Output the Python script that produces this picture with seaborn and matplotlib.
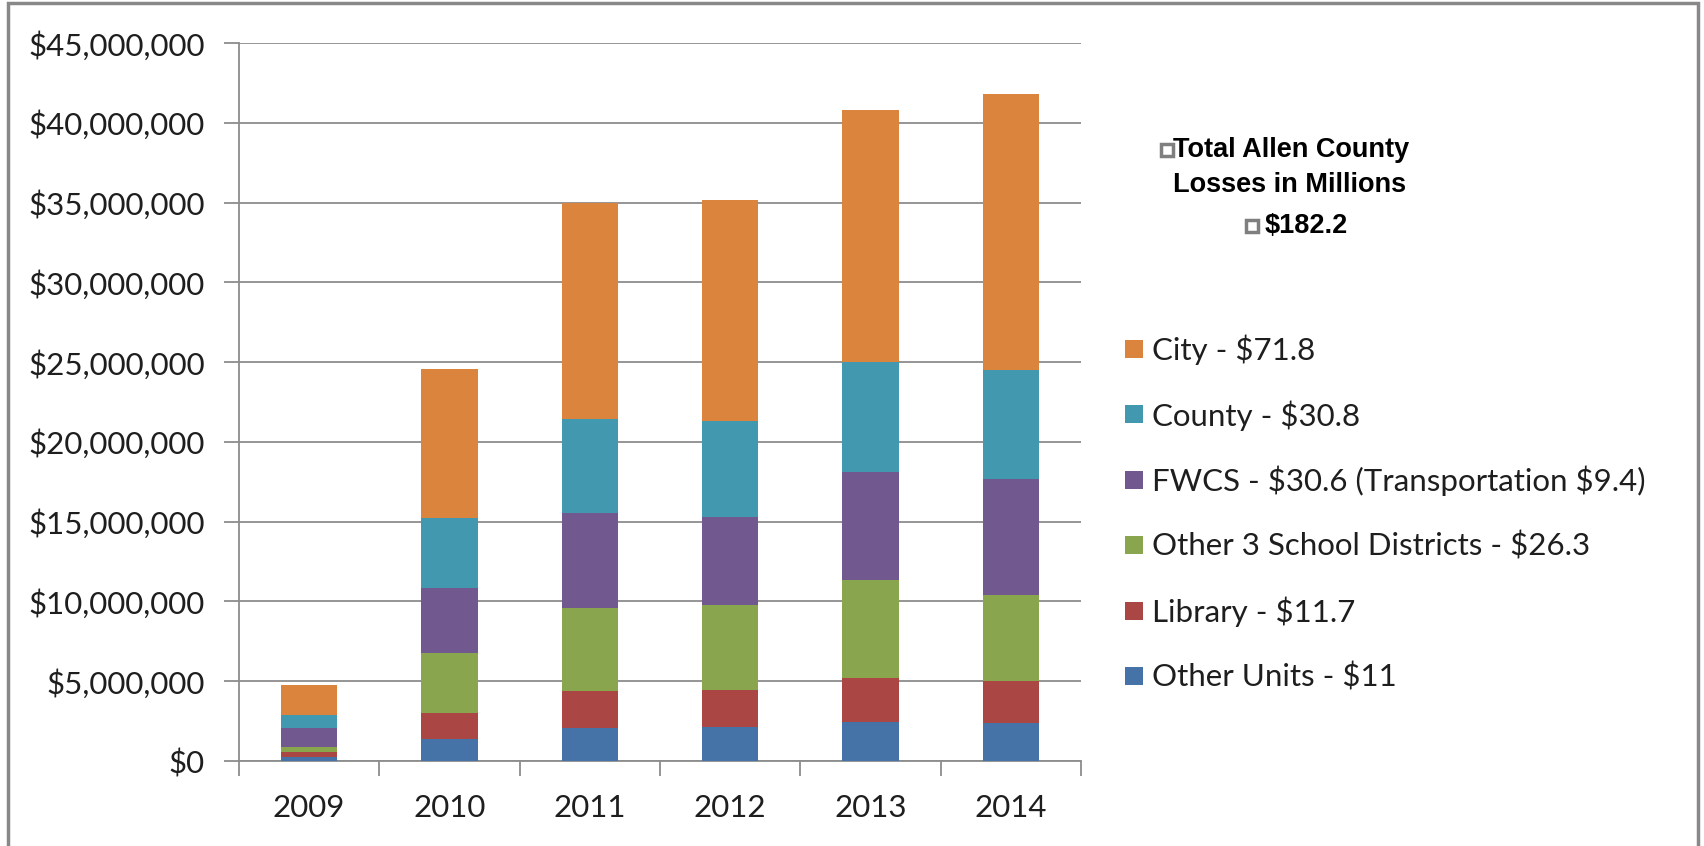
import matplotlib
matplotlib.use("Agg")
import matplotlib.pyplot as plt
import matplotlib.ticker as mticker
from matplotlib.patches import Rectangle
import seaborn as sns
import pandas as pd
import numpy as np

# ---------------- data (millions of dollars) ----------------
years = ["2009", "2010", "2011", "2012", "2013", "2014"]
other_units = [0.25, 1.40, 2.05, 2.15, 2.47, 2.36]
library = [0.32, 1.60, 2.31, 2.31, 2.72, 2.64]
other_schools = [0.30, 3.80, 5.24, 5.29, 6.18, 5.42]
fwcs = [1.18, 4.06, 5.96, 5.54, 6.73, 7.27]
county = [0.85, 4.40, 5.89, 5.99, 6.93, 6.84]
city = [1.87, 9.33, 13.53, 13.90, 15.77, 17.28]

series_names = ["Other Units - $11", "Library - $11.7",
                "Other 3 School Districts - $26.3",
                "FWCS - $30.6 (Transportation $9.4)",
                "County - $30.8", "City - $71.8"]
series_values = [other_units, library, other_schools, fwcs, county, city]
series_colors = ["#4572A7", "#AA4643", "#89A54E", "#71588F", "#4198AF", "#DB843D"]
header_lines = ["Total Allen County", "Losses in Millions"]
header_total = "$182.2"
y_ticks = list(range(0, 45_000_001, 5_000_000))

# ---------------- figure ----------------
W, H = 1704, 846
sns.set_style("white")
plt.rcParams["font.family"] = ["Lato", "DejaVu Sans"]
plt.rcParams["text.parse_math"] = False

fig = plt.figure(figsize=(W / 100, H / 100), dpi=100)
fig.patch.set_facecolor("white")

def fx(px):
    return px / W

def fy(py):
    return 1 - py / H

ax_left, ax_right, ax_top, ax_bot = 239, 1081, 43, 761
ax = fig.add_axes([fx(ax_left), fy(ax_bot), fx(ax_right - ax_left), (ax_bot - ax_top) / H])

# long-form table with cumulative tops
rows = []
for name, vals in zip(series_names, series_values):
    for yr, v in zip(years, vals):
        rows.append({"year": yr, "series": name, "value": v * 1e6})
df = pd.DataFrame(rows)
df["top"] = df.groupby("year")["value"].cumsum()

# draw from the top layer downwards so lower layers cover upper ones
for name, col in reversed(list(zip(series_names, series_colors))):
    sub = df[df["series"] == name]
    sns.barplot(data=sub, x="year", y="top", order=years, color=col,
                width=0.4, ax=ax, saturation=1, edgecolor="none", zorder=3)

grid_c = "#8C8C8C"
txt_c = "#1E1E1E"
fs = 22.5
ax.set_xlim(-0.5, 5.5)
ax.set_ylim(0, 45_000_000)
ax.set_yticks(y_ticks)
ax.yaxis.set_major_formatter(mticker.FuncFormatter(lambda v, p: f"${v:,.0f}"))
ax.yaxis.grid(True, color=grid_c, linewidth=1.3, zorder=0)
ax.set_axisbelow(True)
ax.set_xlabel("")
ax.set_ylabel("")

for s in ["top", "right"]:
    ax.spines[s].set_visible(False)
for s in ["left", "bottom"]:
    ax.spines[s].set_color(grid_c)
    ax.spines[s].set_linewidth(1.3)

ax.tick_params(axis="y", length=11, width=1.3, color=grid_c, pad=13.5,
               labelsize=fs, labelcolor=txt_c, left=True)
ax.set_xticks(range(len(years)))
ax.set_xticklabels(years)
ax.set_xticks(np.arange(-0.5, len(years), 1.0), minor=True)
ax.tick_params(axis="x", which="major", length=0, pad=24, labelsize=fs,
               labelcolor=txt_c)
ax.tick_params(axis="x", which="minor", length=11, width=1.3, color=grid_c,
               bottom=True)

# ---------------- legend header ----------------
hdr_font = dict(family=["Liberation Sans", "DejaVu Sans"], fontweight="bold",
                fontsize=19.5, color="black")
fig.text(fx(1291), fy(150), header_lines[0], ha="center", va="center", **hdr_font)
fig.text(fx(1290), fy(185), header_lines[1], ha="center", va="center", **hdr_font)
fig.text(fx(1306), fy(226), header_total, ha="center", va="center", **hdr_font)
for (cx, cy) in [(1167, 150), (1252, 226)]:
    fig.add_artist(Rectangle((fx(cx - 6), fy(cy + 6)), fx(12), 12 / H,
                             transform=fig.transFigure, facecolor="white",
                             edgecolor="#7F7F7F", linewidth=2.5))

# ---------------- legend entries ----------------
leg_y0, leg_dy = 349, 65.4
for i, (name, col) in enumerate(reversed(list(zip(series_names, series_colors)))):
    cy = leg_y0 + i * leg_dy
    fig.add_artist(Rectangle((fx(1125), fy(cy + 9)), fx(18), 18 / H,
                             transform=fig.transFigure, facecolor=col,
                             edgecolor="none"))
    fig.text(fx(1152), fy(cy + 1), name, ha="left", va="center",
             fontsize=fs, color=txt_c)

# outer frame
fig.add_artist(Rectangle((fx(8), -0.02), fx(1698 - 8), 1 - 3 / H + 0.02,
                         transform=fig.transFigure, facecolor="none",
                         edgecolor="#888888", linewidth=2.5))

fig.savefig("out.png", dpi=100, facecolor="white")
